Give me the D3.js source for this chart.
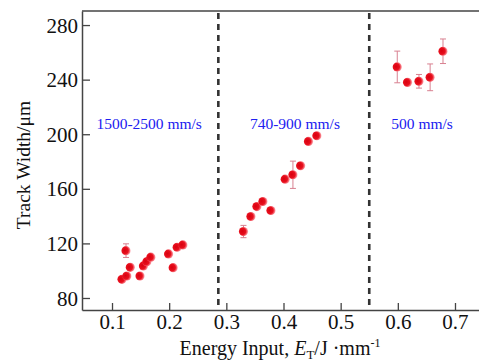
<!DOCTYPE html>
<html><head><meta charset="utf-8">
<script src="https://cdn.jsdelivr.net/npm/d3@7"></script>
<style>
html,body{margin:0;padding:0;background:#fff;}
svg{display:block;}
svg text{font-family:"Liberation Serif","Times New Roman",Times,"Nimbus Roman",serif !important;}
</style></head>
<body><svg id="c" width="479" height="361"></svg>
<script>
// Data
const energy = [0.1175,0.126,0.132,0.1245,0.149,0.155,0.161,0.168,0.199,0.207,0.214,0.224,
                0.330,0.343,0.3535,0.364,0.378,0.403,0.4165,0.430,0.4437,0.4584,
                0.599,0.617,0.637,0.6565,0.679];
const trackWidth = [93.7,96.1,102.5,114.7,96.1,103.5,106.6,109.9,112.3,102.2,117.2,118.9,
                128.7,139.7,147.0,150.7,144.1,167.1,170.3,176.9,194.7,198.9,
                249.3,238.0,238.8,241.7,260.8];
const errBar = [0,0,0,5,0,0,0,0,0,0,2,0,
                4.5,0,0,0,0,0,10,0,0,0,
                11.6,0,5,9.8,9];
const xTicks = [0.1,0.2,0.3,0.4,0.5,0.6,0.7];
const yTicks = [80,120,160,200,240,280];
const dividers = [0.286,0.55];
const regionLabels = ["1500-2500 mm/s","740-900 mm/s","500 mm/s"];
const labelX = [0.165,0.42,0.6425];
const labelY = 204;

const svg = d3.select("#c");
const L=82, R=479, T=11, B=310;
const x = d3.scaleLinear().domain([0.0475,0.742]).range([L,R]);
const y = d3.scaleLinear().domain([71.2,290.3]).range([B,T]);

const defs = svg.append("defs");
const g = defs.append("radialGradient").attr("id","dot").attr("cx","40%").attr("cy","50%").attr("r","60%").attr("fx","35%").attr("fy","45%");
g.append("stop").attr("offset","0%").attr("stop-color","#d8000f");
g.append("stop").attr("offset","60%").attr("stop-color","#e8101e");
g.append("stop").attr("offset","100%").attr("stop-color","#ffb0b8");

// axes
const axisColor="#444";
svg.append("line").attr("x1",L).attr("x2",R).attr("y1",T).attr("y2",T).attr("stroke",axisColor).attr("stroke-width",1.5);
const xa = svg.append("g").attr("transform",`translate(0,${B})`)
  .call(d3.axisBottom(x).tickValues(xTicks).tickSize(-7).tickSizeOuter(0).tickFormat(d3.format(".1f")));
const ya = svg.append("g").attr("transform",`translate(${L},0)`)
  .call(d3.axisLeft(y).tickValues(yTicks).tickSize(-8).tickSizeOuter(0));
[xa,ya].forEach(a=>{
  a.select(".domain").attr("stroke",axisColor).attr("stroke-width",1.5);
  a.selectAll(".tick line").attr("stroke",axisColor).attr("stroke-width",1.3);
  a.selectAll("text").attr("font-size",21).attr("fill","#111");
});
xa.selectAll("text").attr("y",19).attr("dy","0");
ya.selectAll("text").attr("x",-4).attr("dy","0.34em");

// dividers
svg.selectAll(".div").data(dividers).enter().append("line")
  .attr("x1",d=>x(d)).attr("x2",d=>x(d)).attr("y1",T+2).attr("y2",B-2)
  .attr("stroke","#333").attr("stroke-width",2.6).attr("stroke-dasharray","6,5");

// region labels
svg.selectAll(".rl").data(regionLabels).enter().append("text")
  .attr("x",(d,i)=>x(labelX[i])).attr("y",y(labelY)).attr("text-anchor","middle")
  .attr("font-size",15.5).attr("fill","#2020f0").text(d=>d);

// error bars
const pts = energy.map((e,i)=>({e, w:trackWidth[i], er:errBar[i]}));
const eb = svg.append("g").attr("stroke","#d88090").attr("stroke-width",1);
pts.filter(p=>p.er>0).forEach(p=>{
  eb.append("line").attr("x1",x(p.e)).attr("x2",x(p.e)).attr("y1",y(p.w-p.er)).attr("y2",y(p.w+p.er));
  [p.w-p.er,p.w+p.er].forEach(v=>eb.append("line").attr("x1",x(p.e)-3).attr("x2",x(p.e)+3).attr("y1",y(v)).attr("y2",y(v)));
});
svg.append("g").selectAll("circle").data(pts).enter().append("circle")
  .attr("cx",d=>x(d.e)).attr("cy",d=>y(d.w)).attr("r",4.6).attr("fill","url(#dot)");

// axis titles
const xt = svg.append("text").attr("x",280).attr("y",355).attr("text-anchor","middle").attr("font-size",20).attr("fill","#111");
xt.append("tspan").text("Energy Input, ");
xt.append("tspan").attr("font-style","italic").text("E");
xt.append("tspan").attr("font-size",13).attr("dy",4).text("T");
xt.append("tspan").attr("dy",-4).text("/J ·mm");
xt.append("tspan").attr("font-size",12).attr("dy",-8).text("-1");

svg.append("text").attr("transform","translate(30,165) rotate(-90)").attr("text-anchor","middle")
  .attr("font-size",19.5).attr("fill","#111").text("Track Width/μm");
</script></body></html>
